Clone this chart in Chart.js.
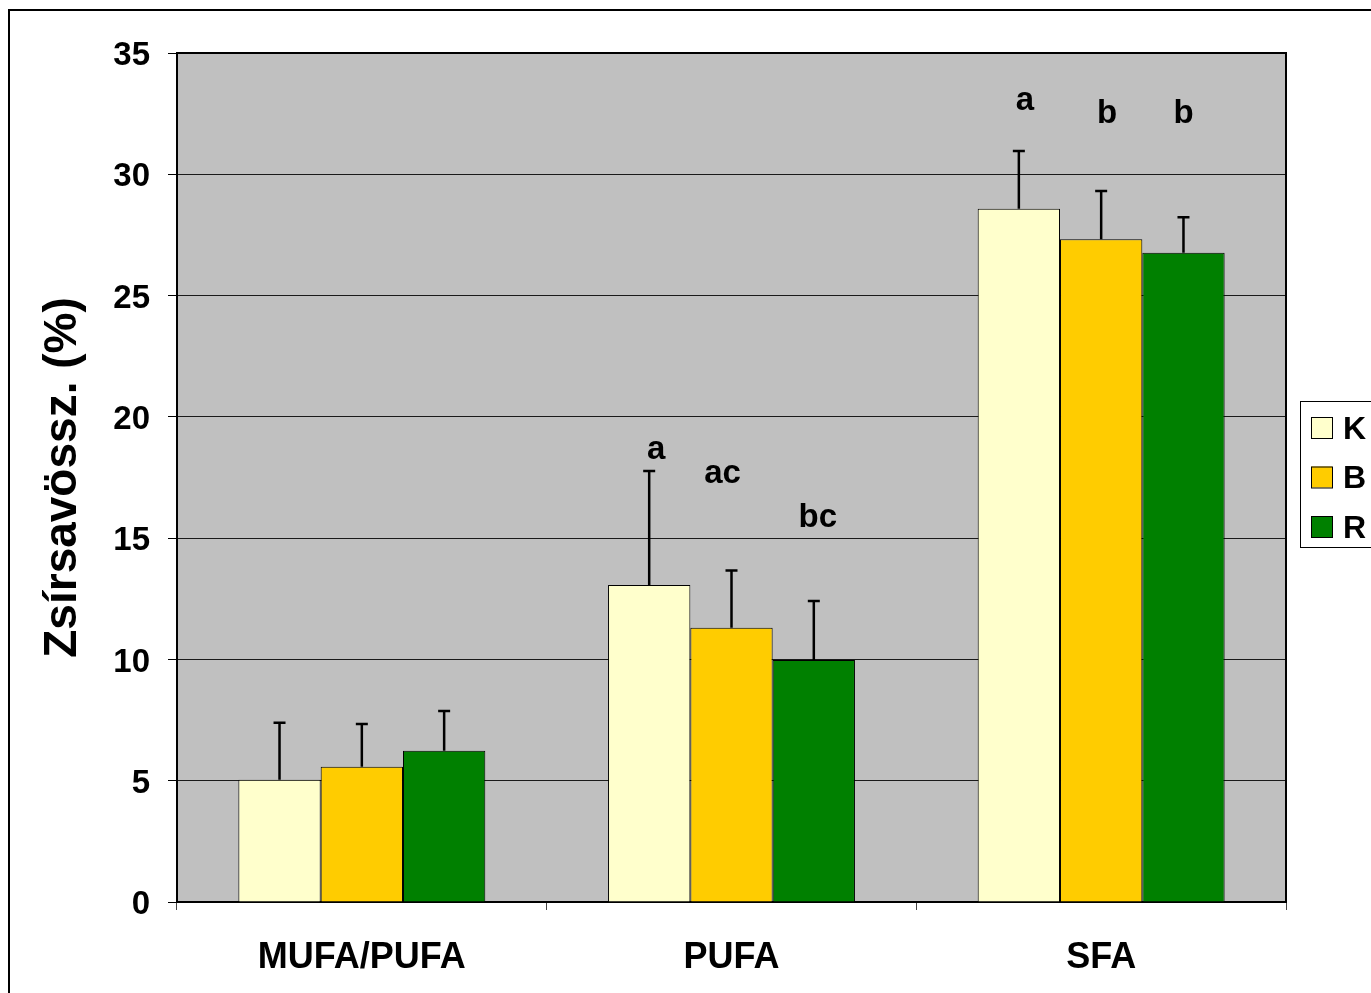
<!DOCTYPE html>
<html>
<head>
<meta charset="utf-8">
<style>
  html, body { margin: 0; padding: 0; background: #ffffff; }
  #wrap { width: 1371px; height: 993px; }
</style>
<script src="https://cdn.jsdelivr.net/npm/chart.js@4.4.1/dist/chart.umd.min.js"></script>
</head>
<body>
<div id="wrap"><canvas id="chart" width="1371" height="993"></canvas></div>
<script>
// Fatty acid groups
const categories = ['MUFA/PUFA', 'PUFA', 'SFA'];
const seriesNames = ['K', 'B', 'R'];

// Means (%)
const valuesK = [5.04, 13.07, 28.58];
const valuesB = [5.58, 11.31, 27.32];
const valuesR = [6.24, 9.98, 26.77];

// Standard deviations (%)
const errorsK = [2.35, 4.70, 2.38];
const errorsB = [1.76, 2.36, 1.99];
const errorsR = [1.63, 2.43, 1.46];

// Significance letters
const lettersK = ['', 'a', 'a'];
const lettersB = ['', 'ac', 'b'];
const lettersR = ['', 'bc', 'b'];

const yTicks = [0, 5, 10, 15, 20, 25, 30, 35];

const FONT = "'Liberation Sans', Arial, sans-serif";

// Grey plot area plus the outer frame of the figure
const backgroundPlugin = {
  id: 'frameAndPlotBg',
  beforeDraw(chart) {
    const { ctx, chartArea: a } = chart;
    ctx.save();
    ctx.fillStyle = '#ffffff';
    ctx.fillRect(0, 0, chart.width, chart.height);
    ctx.strokeStyle = '#000000';
    ctx.lineWidth = 2;
    ctx.strokeRect(9, 10, chart.width + 20, chart.height + 20);
    ctx.fillStyle = '#c0c0c0';
    ctx.fillRect(a.left, a.top, a.right - a.left, a.bottom - a.top);
    ctx.restore();
  },
  afterDraw(chart) {
    // top and right edges of the plot area
    const { ctx, chartArea: a } = chart;
    ctx.save();
    ctx.strokeStyle = '#000000';
    ctx.lineWidth = 2;
    ctx.beginPath();
    ctx.moveTo(a.left, a.top);
    ctx.lineTo(a.right, a.top);
    ctx.lineTo(a.right, a.bottom);
    ctx.stroke();
    ctx.restore();
  }
};

// Error bars (upper whisker) and significance letters above the bars
const errorPlugin = {
  id: 'errorBarsAndLetters',
  afterDatasetsDraw(chart, args, opts) {
    const { ctx } = chart;
    const y = chart.scales.y;
    ctx.save();
    chart.data.datasets.forEach((ds, di) => {
      const meta = chart.getDatasetMeta(di);
      meta.data.forEach((bar, i) => {
        const top = y.getPixelForValue(ds.data[i] + ds.errors[i]);
        ctx.strokeStyle = '#000000';
        ctx.lineWidth = 2.5;
        ctx.beginPath();
        ctx.moveTo(bar.x, bar.y);
        ctx.lineTo(bar.x, top);
        ctx.moveTo(bar.x - 6, top);
        ctx.lineTo(bar.x + 6, top);
        ctx.stroke();

        const txt = ds.letters[i];
        if (txt) {
          const base = opts.baselines[di][i];
          ctx.fillStyle = '#000000';
          ctx.font = 'bold 33px ' + FONT;
          ctx.textAlign = 'center';
          ctx.textBaseline = 'alphabetic';
          ctx.fillText(txt, bar.x + opts.shift[di][i], y.getPixelForValue(base));
        }
      });
    });
    ctx.restore();
  }
};

// Boxed legend at the right edge
const legendPlugin = {
  id: 'boxLegend',
  afterDraw(chart, args, opts) {
    const { ctx } = chart;
    ctx.save();
    ctx.strokeStyle = '#000000';
    ctx.lineWidth = 1;
    ctx.strokeRect(opts.x + 0.5, opts.y + 0.5, 200, opts.h);
    chart.data.datasets.forEach((ds, i) => {
      const sy = opts.y + 16 + i * 49.5;
      ctx.fillStyle = ds.backgroundColor;
      ctx.fillRect(opts.x + 11, sy, 21, 21);
      ctx.strokeRect(opts.x + 11.5, sy + 0.5, 21, 21);
      ctx.fillStyle = '#000000';
      ctx.font = 'bold 32px ' + FONT;
      ctx.textAlign = 'left';
      ctx.textBaseline = 'middle';
      ctx.fillText(ds.label, opts.x + 43, sy + 13);
    });
    ctx.restore();
  }
};

const makeSet = (name, values, errors, letters, color) => ({
  label: name,
  data: values,
  errors: errors,
  letters: letters,
  backgroundColor: color,
  borderColor: '#000000',
  borderWidth: 1,
  categoryPercentage: 0.668,
  barPercentage: 1.0
});

new Chart(document.getElementById('chart'), {
  type: 'bar',
  data: {
    labels: categories,
    datasets: [
      makeSet(seriesNames[0], valuesK, errorsK, lettersK, '#ffffcc'),
      makeSet(seriesNames[1], valuesB, errorsB, lettersB, '#ffcc00'),
      makeSet(seriesNames[2], valuesR, errorsR, lettersR, '#008000')
    ]
  },
  options: {
    responsive: false,
    devicePixelRatio: 1,
    animation: false,
    layout: { padding: { top: 53, right: 85, left: 0, bottom: 0 } },
    plugins: {
      legend: { display: false },
      tooltip: { enabled: false },
      errorBarsAndLetters: {
        baselines: [[0, 18.26, 32.63], [0, 17.27, 32.10], [0, 15.46, 32.10]],
        shift: [[0, 7, 6], [0, -9, 6], [0, 4, 0]]
      },
      boxLegend: { x: 1300, y: 401, h: 146 }
    },
    scales: {
      x: {
        afterFit(s) { s.height = 91; },
        grid: {
          offset: true,
          drawOnChartArea: false,
          drawTicks: true,
          tickLength: 8,
          tickColor: '#444444',
          lineWidth: 1
        },
        border: { display: true, color: '#000000', width: 2 },
        ticks: {
          color: '#000000',
          font: { family: FONT, size: 36, weight: 'bold' },
          padding: 26,
          maxRotation: 0
        }
      },
      y: {
        min: 0,
        max: 35,
        afterFit(s) { s.width = 177; },
        afterBuildTicks(s) { s.ticks = yTicks.map(v => ({ value: v })); },
        grid: {
          color: '#1a1a1a',
          lineWidth: 1,
          drawTicks: true,
          tickLength: 9,
          tickColor: '#000000'
        },
        border: { display: true, color: '#000000', width: 2 },
        ticks: {
          color: '#000000',
          font: { family: FONT, size: 33, weight: 'bold' },
          padding: 18,
          labelOffset: 3
        },
        title: {
          display: true,
          text: 'Zsírsavössz. (%)',
          color: '#000000',
          font: { family: FONT, size: 46, weight: 'bold' },
          padding: { top: 36, bottom: 0 }
        }
      }
    }
  },
  plugins: [backgroundPlugin, errorPlugin, legendPlugin]
});
</script>
</body>
</html>
